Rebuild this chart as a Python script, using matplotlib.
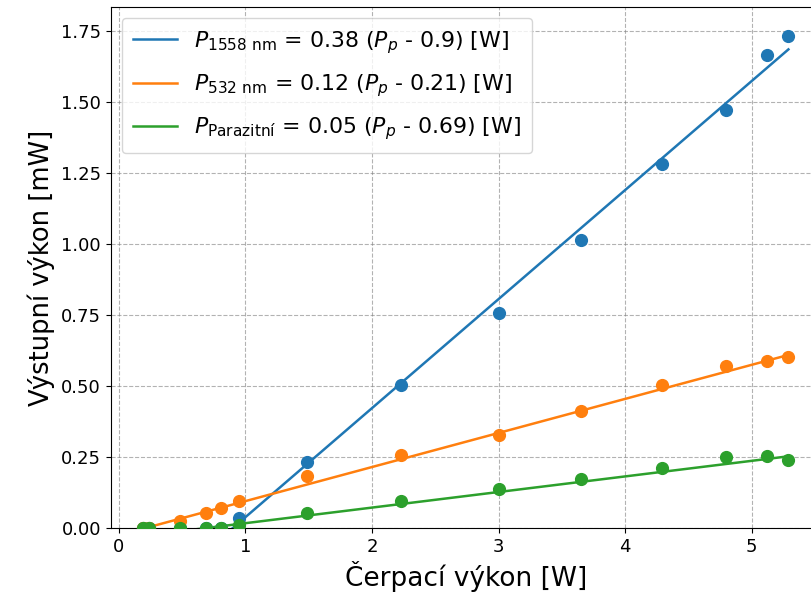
import numpy as np
import matplotlib.pyplot as plt

# pump power [W]
pump = np.array([0.19, 0.24, 0.48, 0.69, 0.81, 0.95, 1.49, 2.23, 3.0, 3.65, 4.29, 4.8, 5.12, 5.29])

# measured output powers
p1558 = np.array([0, 0, 0, 0, 0, 0.035, 0.232, 0.505, 0.758, 1.015, 1.283, 1.472, 1.666, 1.732])
p532 = np.array([0, 0, 0.025, 0.053, 0.07, 0.095, 0.183, 0.256, 0.327, 0.411, 0.502, 0.569, 0.587, 0.601])
ppar = np.array([0, 0, 0, 0, 0, 0.01, 0.053, 0.095, 0.139, 0.172, 0.211, 0.249, 0.253, 0.239])

# linear fits: slope * (P_p - threshold)
fit1558 = (0.384, 0.9)
fit532 = (0.12, 0.21)
fitpar = (0.0549, 0.69)

fig = plt.figure(figsize=(8.11, 6.06), dpi=100)
ax = fig.add_axes([0.1365, 0.1287, 0.877, 0.8597])

series = [
    (p1558, fit1558, 'C0', r'$P_{1558\ \mathrm{nm}}$ = 0.38 ($P_p$ - 0.9) [W]'),
    (p532, fit532, 'C1', r'$P_{532\ \mathrm{nm}}$ = 0.12 ($P_p$ - 0.21) [W]'),
    (ppar, fitpar, 'C2', r'$P_{\mathrm{Parazitní}}$ = 0.05 ($P_p$ - 0.69) [W]'),
]

for y, (a, x0), c, lab in series:
    ax.scatter(pump, y, s=72, color=c, zorder=3)
    ax.plot(pump, a * (pump - x0), color=c, lw=1.8, label=lab, zorder=2)

ax.set_xlim(-0.065, 5.555)
ax.set_ylim(0, 1.835)
ax.set_yticks(np.arange(0, 1.76, 0.25))
ax.grid(True, linestyle='--', color='gray', alpha=0.6)
ax.tick_params(labelsize=13)
ax.set_xlabel('Čerpací výkon [W]', fontsize=19)
ax.set_ylabel('Výstupní výkon [mW]', fontsize=18.5)
ax.legend(loc='upper left', fontsize=15.8, labelspacing=0.75, borderpad=0.5)

fig.savefig('out.png', dpi=100)
